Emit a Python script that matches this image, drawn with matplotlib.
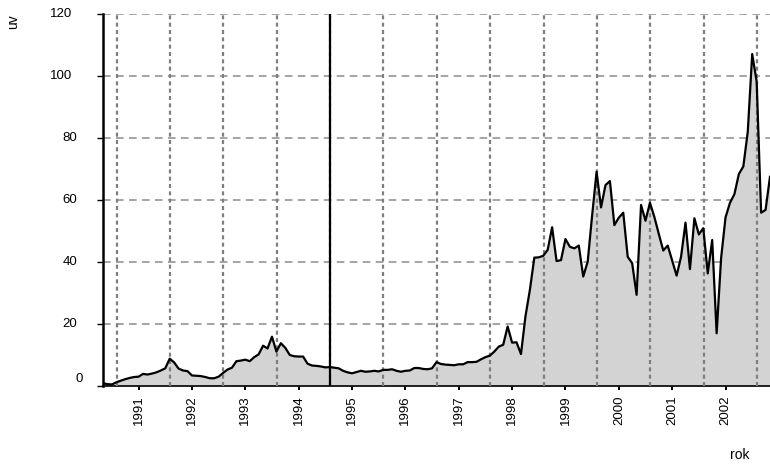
import numpy as np
import matplotlib
matplotlib.use("Agg")
import matplotlib.pyplot as plt
import matplotlib.transforms as mtransforms

plt.rcParams['font.family'] = ['Liberation Sans', 'DejaVu Sans']

# monthly series, May 1990 .. Nov 2002
start_year = 1990 + 4 / 12
uv = [0.9, 0.6, 0.5, 1.2, 1.7, 2.2, 2.6, 2.9, 3.0, 3.9,
      3.7, 4.0, 4.4, 5.0, 5.7, 8.8, 7.6, 5.6, 5.0, 4.8,
      3.4, 3.3, 3.2, 2.9, 2.5, 2.5, 3.0, 4.2, 5.3, 5.9,
      8.0, 8.2, 8.5, 8.0, 9.3, 10.2, 13.0, 12.1, 15.9, 11.1,
      13.8, 12.3, 10.0, 9.6, 9.5, 9.5, 7.2, 6.6, 6.5, 6.3,
      6.0, 6.1, 5.9, 5.7, 4.9, 4.4, 4.1, 4.5, 4.9, 4.6,
      4.7, 4.9, 4.7, 5.2, 5.2, 5.4, 4.9, 4.6, 4.9, 5.0,
      5.8, 5.8, 5.5, 5.4, 5.7, 7.7, 7.1, 6.9, 6.8, 6.7,
      7.0, 7.0, 7.7, 7.7, 7.8, 8.6, 9.3, 9.8, 11.1, 12.7,
      13.3, 19.2, 14.0, 14.1, 10.3, 22.4, 31.0, 41.4, 41.5, 42.0,
      43.9, 51.2, 40.3, 40.6, 47.4, 44.9, 44.4, 45.3, 35.3, 40.1,
      55.0, 69.1, 57.6, 64.8, 66.1, 51.9, 54.3, 55.9, 41.7, 39.6,
      29.4, 58.4, 53.3, 59.1, 54.5, 49.0, 43.7, 45.3, 40.4, 35.6,
      41.7, 52.7, 37.7, 54.1, 48.9, 50.9, 36.3, 47.1, 17.0, 41.2,
      54.4, 59.1, 61.9, 68.4, 70.8, 82.0, 107.1, 98.2, 55.9, 56.8,
      67.5]
t = start_year + np.arange(len(uv)) / 12

years = list(range(1991, 2003))
yticks = [0, 20, 40, 60, 80, 100, 120]
grid_x = [1990.59 + k for k in range(13)]
marker_x = 1994.59

fig = plt.figure(figsize=(7.7, 4.67), dpi=100)
ax = fig.add_axes([103 / 770, 81 / 467, 667 / 770, 372 / 467])

for y in yticks[1:]:
    ax.axhline(y, color='#8c8c8c', lw=1.1, ls=(0, (5, 3.5)), zorder=1)

ax.fill_between(t, 0, uv, color='#d3d3d3', lw=0, zorder=2)

for x in grid_x:
    ax.axvline(x, color='#7f7f7f', lw=1.6, ls=(0, (1.8, 1.5)), zorder=3)

ax.plot(t, uv, color='black', lw=1.6, zorder=4)
ax.axvline(marker_x, color='black', lw=1.6, zorder=5)

ax.set_xlim(start_year, start_year + 150 / 12)
ax.set_ylim(0, 120)

for side in ['top', 'right']:
    ax.spines[side].set_visible(False)
ax.spines['left'].set_linewidth(1.8)
ax.spines['left'].set_zorder(6)
ax.spines['bottom'].set_linewidth(1.2)

ax.set_xticks(years)
ax.set_xticklabels([str(y) for y in years], rotation=90, fontsize=9.5)
ax.tick_params(axis='x', length=3, width=1.4, pad=4)

ax.set_yticks(yticks)
ax.set_yticklabels([])
ax.tick_params(axis='y', length=4.5, width=1)

# y labels placed by hand, each with its own offset
base = mtransforms.blended_transform_factory(ax.transAxes, ax.transData)
for y in yticks:
    s = str(y)
    dx = {3: -31, 2: -26, 1: -20}[len(s)]
    dy = 7 if y == 0 else 0
    tr = base + mtransforms.ScaledTranslation(dx / 100, dy / 100, fig.dpi_scale_trans)
    ax.text(0, y, s, transform=tr, ha='right', va='center', fontsize=9.5)

fig.text(13 / 770, 1 - 22 / 467, 'uv', rotation=90, ha='center', va='center', fontsize=10)
fig.text(740 / 770, 1 - 455 / 467, 'rok', ha='center', va='center', fontsize=10)

fig.savefig('out.png', dpi=100)
